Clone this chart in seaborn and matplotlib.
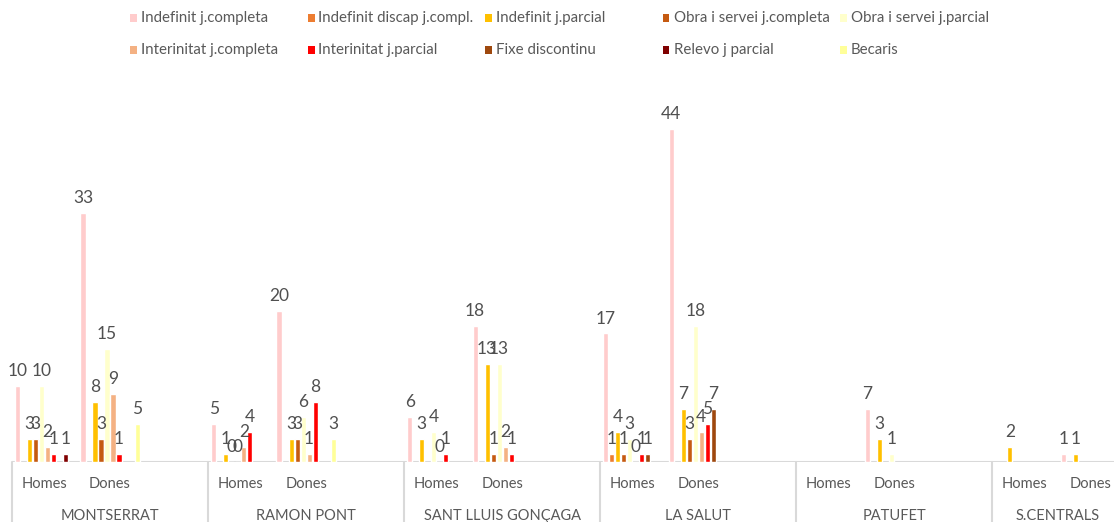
import numpy as np
import pandas as pd
import matplotlib
matplotlib.use('Agg')
import matplotlib.pyplot as plt
import matplotlib.transforms as mtransforms
from matplotlib.patches import Rectangle
import seaborn as sns

nan = np.nan

centres = ['MONTSERRAT', 'RAMON PONT', 'SANT LLUIS GONÇAGA', 'LA SALUT', 'PATUFET', 'S.CENTRALS']
genders = ['Homes', 'Dones']

series = ['Indefinit j.completa', 'Indefinit discap j.compl.', 'Indefinit j.parcial',
          'Obra i servei j.completa', 'Obra i servei j.parcial',
          'Interinitat j.completa', 'Interinitat j.parcial', 'Fixe discontinu',
          'Relevo j parcial', 'Becaris']
colors = ['#FFCCCC', '#ED7D31', '#FFC000', '#C55A11', '#FFFFCC',
          '#F4B183', '#FF0000', '#9E480E', '#7F0000', '#FFFF99']

# one value per centre/gender: MONTSERRAT H, D, RAMON PONT H, D, ... S.CENTRALS H, D
indefinit_completa   = [10, 33, 5, 20, 6, 18, 17, 44, nan, 7, nan, 1]
indefinit_discap     = [nan, nan, nan, nan, nan, nan, 1, nan, nan, nan, nan, nan]
indefinit_parcial    = [3, 8, 1, 3, 3, 13, 4, 7, nan, 3, 2, 1]
obra_completa        = [3, 3, 0, 3, nan, 1, 1, 3, nan, nan, nan, nan]
obra_parcial         = [10, 15, 0, 6, 4, 13, 3, 18, nan, 1, nan, nan]
interinitat_completa = [2, 9, 2, 1, 0, 2, 0, 4, nan, nan, nan, nan]
interinitat_parcial  = [1, 1, 4, 8, 1, 1, 1, 5, nan, nan, nan, nan]
fixe_discontinu      = [nan, nan, nan, nan, nan, nan, 1, 7, nan, nan, nan, nan]
relevo_parcial       = [1, nan, nan, nan, nan, nan, nan, nan, nan, nan, nan, nan]
becaris              = [nan, 5, nan, 3, nan, nan, nan, nan, nan, nan, nan, nan]

values = [indefinit_completa, indefinit_discap, indefinit_parcial, obra_completa,
          obra_parcial, interinitat_completa, interinitat_parcial, fixe_discontinu,
          relevo_parcial, becaris]

# category order: each centre has Homes, Dones and an empty slot (last one has no empty slot)
order = []
labels = []
for i, c in enumerate(centres):
    for g in genders:
        order.append(f'{c}|{g}')
        labels.append(g)
    if i < len(centres) - 1:
        order.append(f'{c}|')
        labels.append('')

slots = [f'{c}|{g}' for c in centres for g in genders]
rows = []
for s, vals in zip(series, values):
    for slot, v in zip(slots, vals):
        if not np.isnan(v):
            rows.append({'cat': slot, 'tipus': s, 'valor': v})
df = pd.DataFrame(rows)

sns.set_style('white')
plt.rcParams['font.family'] = ['Lato', 'DejaVu Sans']

fig = plt.figure(figsize=(11.14, 5.22), dpi=100)
W, H = 1114, 522
ax = fig.add_axes([12 / W, 60 / H, 1111 / W, 378 / H])

sns.barplot(data=df, x='cat', y='valor', hue='tipus', order=order, hue_order=series,
            palette=colors, width=0.92, gap=0.15, errorbar=None, saturation=1,
            legend=False, ax=ax)

for cont in ax.containers:
    ax.bar_label(cont, fmt='{:g}', padding=5, fontsize=12.5, color='#505050')

ax.set_ylim(0, 50)
ax.set_xlim(-0.5, len(order) - 0.5)
ax.set_xlabel('')
ax.set_ylabel('')
ax.set_yticks([])
ax.set_xticks(range(len(order)))
ax.set_xticklabels(labels, fontsize=10.5, color='#595959')
ax.tick_params(axis='x', length=0, pad=11)
for sp in ax.spines.values():
    sp.set_visible(False)
ax.axhline(0, color='#D9D9D9', lw=1.5, zorder=0)

# centre names and separators below the axis
trans = mtransforms.blended_transform_factory(ax.transData, ax.transAxes)
start = -0.5
for i, c in enumerate(centres):
    n = 3 if i < len(centres) - 1 else 2
    ax.plot([start, start], [0, -0.2], color='#D9D9D9', lw=1.5,
            transform=trans, clip_on=False)
    ax.text(start + n / 2, -54 / 378, c, transform=trans, ha='center', va='center',
            fontsize=10.5, color='#595959')
    start += n

# legend, laid out like the original (row by row, equal columns)
for k, (s, col) in enumerate(zip(series, colors)):
    r, cidx = divmod(k, 5)
    x = 130 + cidx * 177.5
    y = 18 + r * 32
    fig.patches.append(Rectangle((x / W, 1 - (y + 4) / H), 7 / W, 8 / H,
                                 facecolor=col, edgecolor='none',
                                 transform=fig.transFigure))
    fig.text((x + 11) / W, 1 - y / H, s, ha='left', va='center',
             fontsize=10.8, color='#595959')

fig.savefig('out.png', dpi=100)
